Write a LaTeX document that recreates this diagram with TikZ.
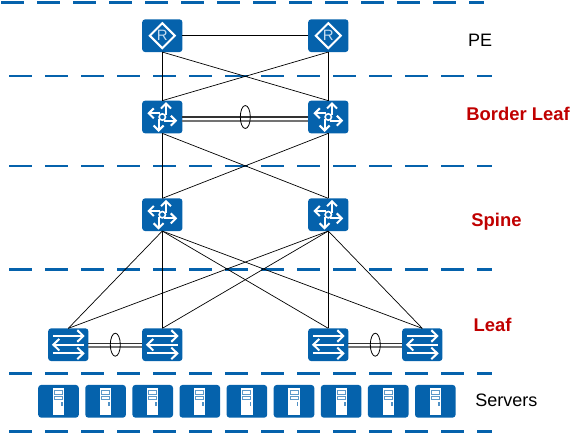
\documentclass[tikz,border=0pt]{standalone}
\usepackage{fontspec}
\setmainfont{Liberation Sans}
\usetikzlibrary{shapes.geometric}
\definecolor{hwblue}{HTML}{0562AC}
\definecolor{hwlight}{HTML}{C4DCF0}
\definecolor{hwred}{HTML}{C00000}
\tikzset{
  dev/.style={rectangle,rounded corners=3pt,fill=hwblue,draw=none,minimum width=40.3pt,minimum height=32.7pt,inner sep=0pt,outer sep=0pt},
  srv/.style={dev,minimum width=40.6pt},
  sep/.style={draw=hwblue,line width=2.8pt,dash pattern=on 23pt off 13pt},
  wire/.style={draw=black,line width=0.7pt},
  linkdark/.style={draw=black!80,line width=1.1pt},
  linkgrey/.style={draw=black!55,line width=1.7pt},
  lag/.style={ellipse,draw=black,line width=0.8pt,minimum width=10pt,minimum height=23pt,inner sep=0pt,fill=none},
  glyph/.style={draw=white,line width=2pt,line join=miter},
  lbl/.style={anchor=base west,inner sep=0pt,font=\fontsize{18}{18}\selectfont},
  lblred/.style={lbl,text=hwred,font=\fontsize{18.4}{18.4}\selectfont\bfseries},
}
\newcommand{\routericon}[1]{%
  \begin{scope}[shift={(#1.center)}]
    \draw[glyph] (-12.5,0) -- (0,-12.5) -- (12.5,0) -- (0,12.5) -- cycle;
    \node[inner sep=0pt,text=hwlight,font=\fontsize{15}{15}\selectfont] (#1R) at (0,0) {R};
  \end{scope}}
\newcommand{\switchicon}[1]{%
  \begin{scope}[shift={(#1.center)}]
    \draw[glyph] (-15.5,-8.7) -- (14.5,-8.7);
    \draw[glyph] (9,-14.5) -- (15,-8.7) -- (9,-2.9);
    \draw[glyph] (-14.5,0) -- (15.5,0);
    \draw[glyph] (-9,-5.8) -- (-15,0) -- (-9,5.8);
    \draw[glyph] (-15.5,8.7) -- (14.5,8.7);
    \draw[glyph] (9,2.9) -- (15,8.7) -- (9,14.5);
  \end{scope}}
\newcommand{\coreicon}[1]{%
  \begin{scope}[shift={(#1.center)}]
    \draw[glyph] (3.7,-2) -- (3.7,-13.5);
    \draw[glyph] (-1.3,-8.5) -- (3.7,-13.5) -- (8.7,-8.5);
    \draw[glyph] (2,3.7) -- (13.5,3.7);
    \draw[glyph] (8.5,-1.3) -- (13.5,3.7) -- (8.5,8.7);
    \draw[glyph] (-3.7,2) -- (-3.7,13.5);
    \draw[glyph] (-8.7,8.5) -- (-3.7,13.5) -- (1.3,8.5);
    \draw[glyph] (-2,-3.7) -- (-13.5,-3.7);
    \draw[glyph] (-8.5,-8.7) -- (-13.5,-3.7) -- (-8.5,1.3);
    \draw[draw=white,fill=hwblue,line width=1.6pt] (0,0) circle (3.2pt);
  \end{scope}}
\newcommand{\servericon}[1]{%
  \begin{scope}[shift={(#1.center)}]
    \fill[white] (-5.6,-13.2) rectangle (5.6,13.2);
    \draw[hwblue!65!white,line width=1pt] (-4,-10.6) rectangle (4,-7.2);
    \draw[hwblue!65!white,line width=1pt] (-4,-5) rectangle (4,-1.6);
    \fill[hwblue!70!white] (2.6,0.6) rectangle (4.4,4.6);
  \end{scope}}
\begin{document}
\begin{tikzpicture}[x=1pt,y=-1pt]
\useasboundingbox (0,0) rectangle (581,434);
% separators
\draw[sep] (1,2.3) -- (484,2.3);
\foreach \yy in {76,166,269.3,373.3,431.7}
  \draw[sep] (9,\yy) -- (492,\yy);
% devices
\node[dev] (pe1) at (162.3,35.7) {};
\node[dev] (pe2) at (328.3,35.7) {};
\node[dev] (bl1) at (162.3,117) {};
\node[dev] (bl2) at (328.3,117) {};
\node[dev] (sp1) at (162.3,214.7) {};
\node[dev] (sp2) at (328.3,214.7) {};
\node[dev] (lf1) at (68.3,344.7) {};
\node[dev] (lf2) at (162.3,344.7) {};
\node[dev] (lf3) at (328.3,344.7) {};
\node[dev] (lf4) at (422.3,344.7) {};
\foreach \i in {0,...,8}
  \node[srv] (sv\i) at ({58.5+47.1*\i},401.3) {};
\routericon{pe1}\routericon{pe2}
\coreicon{bl1}\coreicon{bl2}\coreicon{sp1}\coreicon{sp2}
\switchicon{lf1}\switchicon{lf2}\switchicon{lf3}\switchicon{lf4}
\foreach \i in {0,...,8} {\servericon{sv\i}}
% connectors
\draw[wire] (pe1.east) -- (pe2.west);
\foreach \a/\b in {pe1/bl1,pe1/bl2,pe2/bl1,pe2/bl2,bl1/sp1,bl1/sp2,bl2/sp1,bl2/sp2,
                   sp1/lf1,sp1/lf2,sp1/lf3,sp1/lf4,sp2/lf1,sp2/lf2,sp2/lf3,sp2/lf4}
  \draw[wire] (\a.south) -- (\b.north);
% link aggregations
\draw[linkgrey] ([yshift=-3.7pt]bl1.east) -- ([yshift=-3.7pt]bl2.west);
\draw[linkdark] (bl1.east) -- (bl2.west) node[lag,midway] (lagb) {};
\draw[linkgrey] ([yshift=-2pt]lf1.east) -- ([yshift=-2pt]lf2.west);
\draw[linkdark] ([yshift=1.4pt]lf1.east) -- ([yshift=1.4pt]lf2.west) node[lag,midway,yshift=-1.4pt] (lagl) {};
\draw[linkgrey] ([yshift=-2pt]lf3.east) -- ([yshift=-2pt]lf4.west);
\draw[linkdark] ([yshift=1.4pt]lf3.east) -- ([yshift=1.4pt]lf4.west) node[lag,midway,yshift=-1.4pt] (lagr) {};
% labels
\node[lbl] (tpe) at (468,46.7) {PE};
\node[lblred] (tbl) at (466.2,120) {Border Leaf};
\node[lblred] (tsp) at (471.2,226) {Spine};
\node[lblred] (tlf) at (473.5,331.7) {Leaf};
\node[lbl] (tsv) at (475.2,406.7) {Servers};
\end{tikzpicture}
\end{document}
